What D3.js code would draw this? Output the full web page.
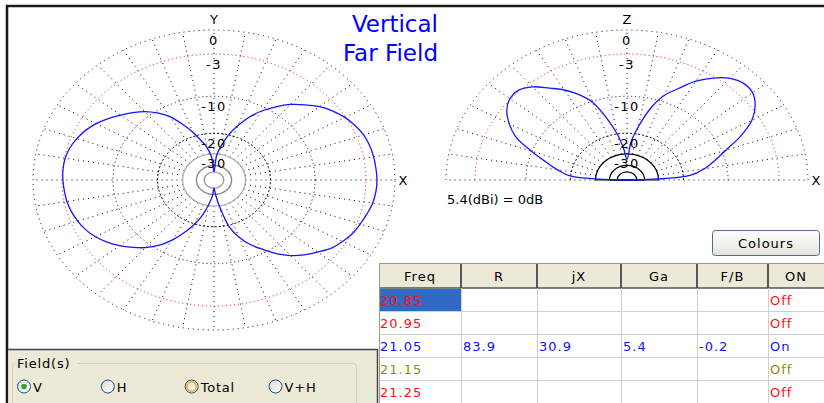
<!DOCTYPE html>
<html><head><meta charset="utf-8">
<script src="https://cdn.jsdelivr.net/npm/d3@7"></script>
<style>
html,body{margin:0;padding:0;background:#fff;}
svg{display:block;}
text{font-family:"DejaVu Sans",sans-serif;}
</style></head><body>
<svg id="c" width="824" height="403"></svg>
<script>
// ---------------- data ----------------
const ringLevels = [0, -3, -10, -20];
const ringLabels = ["0", "-3", "-10", "-20", "-30"];
const labelLevels = [0, -3, -10, -20, -30];
const innerRings = [-30, -40, -50];
const spokeAngles = [0,10,20,30,40,50,60,70,80,90,100,110,120,130,140,150,160,170,180,190,200,210,220,230,240,250,260,270,280,290,300,310,320,330,340,350];
const azAngles = [0,5,10,15,20,25,30,35,40,45,50,55,60,65,70,75,80,85,90,95,100,105,110,115,120,125,130,135,140,145,150,155,160,165,170,175,180,185,190,195,200,205,210,215,220,225,230,235,240,245,250,255,260,265,270,275,280,285,290,295,300,305,310,315,320,325,330,335,340,345,350,355];
const azGain = [-1.8,-1.85,-1.9,-2.0,-2.2,-2.6,-3.1,-3.8,-4.7,-5.9,-7.2,-8.9,-10.8,-13.2,-16.3,-20.0,-25.0,-31,-50,-32,-26,-22.5,-18.7,-15.3,-12.3,-10.4,-8.9,-7.8,-6.8,-5.8,-4.9,-4.2,-3.7,-3.3,-3.1,-3.05,-3.1,-3.2,-3.3,-3.5,-3.8,-4.2,-4.8,-5.6,-6.6,-7.8,-9.1,-10.8,-13.2,-16.3,-20,-24.5,-31,-38,-50,-40,-29,-19.5,-15.5,-12.8,-10.8,-8.8,-7.2,-6.0,-5.0,-4.0,-3.4,-2.9,-2.6,-2.3,-2.0,-1.85];
const elAngles = [0,5,10,15,20,25,30,35,40,45,50,55,60,65,70,75,80,85,90,95,100,105,110,115,120,125,130,135,140,145,150,155,160,165,170,175,180];
const elGain = [-60,-18,-14.3,-11.8,-9.3,-6.3,-3.9,-2.5,-1.7,-1.6,-2.1,-3.2,-4.7,-6.8,-8.8,-12.3,-17.5,-23.5,-34,-27,-20,-14.8,-10.3,-8.0,-6.3,-5.0,-3.6,-2.85,-2.9,-3.6,-4.9,-6.7,-9.9,-13.2,-16.2,-19.8,-60];
const titleLines = ["Vertical", "Far Field"];
const refText = "5.4(dBi) = 0dB";
const tableHeaders = ["Freq", "R", "jX", "Ga", "F/B", "ON"];
const freqCol = ["20.85", "20.95", "21.05", "21.15", "21.25"];
const rCol = ["", "", "83.9", "", ""];
const jxCol = ["", "", "30.9", "", ""];
const gaCol = ["", "", "5.4", "", ""];
const fbCol = ["", "", "-0.2", "", ""];
const onCol = ["Off", "Off", "On", "Off", "Off"];
const rowColours = ["#ff1010", "#ff1010", "#1010ff", "#8f8f10", "#ff1010"];
const fieldOptions = ["V", "H", "Total", "V+H"];

// ---------------- layout ----------------
const svg = d3.select("#c");
const W = 824, H = 403;
const radial = d3.scaleLog().domain([Math.pow(0.89, 30), 1]).range([-60, 0]); // fraction -> dB (ARRL log scale)
const frac = db => radial.invert(Math.max(db, -60));
const rad = a => a * Math.PI / 180;

function drawPolar(geo, half, axisLabel, gain, angles, innerColors) {
  const g = svg.append("g");
  const xs = d3.scaleLinear().domain([-1, 1]).range([geo.cx - geo.rx, geo.cx + geo.rx]);
  const ys = d3.scaleLinear().domain([-1, 1]).range([geo.cy + geo.ry, geo.cy - geo.ry]);
  const P = (a, f) => [xs(f * Math.cos(rad(a))), ys(f * Math.sin(rad(a)))];
  const ringPath = f => half
    ? `M${xs(f)},${ys(0)}A${geo.rx * f},${geo.ry * f} 0 0 0 ${xs(-f)},${ys(0)}`
    : `M${xs(f)},${ys(0)}A${geo.rx * f},${geo.ry * f} 0 0 0 ${xs(-f)},${ys(0)}A${geo.rx * f},${geo.ry * f} 0 0 0 ${xs(f)},${ys(0)}`;

  // spokes
  const sp = half ? spokeAngles.filter(a => a <= 180) : spokeAngles;
  g.selectAll(".spoke").data(sp).enter().append("line")
    .attr("x1", a => P(a, frac(-30))[0]).attr("y1", a => P(a, frac(-30))[1])
    .attr("x2", a => P(a, frac(0))[0]).attr("y2", a => P(a, frac(0))[1])
    .attr("stroke", "#000").attr("stroke-width", 1).attr("stroke-dasharray", "1,4");

  // rings
  const ringStyle = {
    "0": {c: "#000", d: "1,4"}, "-3": {c: "#f00", d: "1,3"},
    "-10": {c: "#000", d: "1,3"}, "-20": {c: "#000", d: "2,2"}
  };
  g.selectAll(".ring").data(ringLevels).enter().append("path")
    .attr("d", d => ringPath(frac(d)))
    .attr("fill", "none")
    .attr("stroke", d => ringStyle[d].c)
    .attr("stroke-dasharray", d => ringStyle[d].d)
    .attr("stroke-width", 1);
  g.selectAll(".inner").data(innerRings).enter().append("path")
    .attr("d", d => ringPath(frac(d)) + (half ? "Z" : ""))
    .attr("fill", "none")
    .attr("stroke", (d, i) => innerColors[i])
    .attr("stroke-width", half ? 1.2 : 1.4);

  // pattern
  const pts = angles.map((a, i) => P(a, frac(gain[i])));
  const line = d3.line().curve(half ? d3.curveCatmullRom.alpha(0.5) : d3.curveCatmullRomClosed.alpha(0.5));
  g.append("path").attr("d", line(pts) + (half ? "Z" : ""))
    .attr("fill", "none").attr("stroke", "#1515ff").attr("stroke-width", 1.3);

  // labels
  g.selectAll(".lab").data(labelLevels).enter().append("text")
    .attr("x", geo.cx).attr("y", d => ys(frac(d)) + 10)
    .attr("text-anchor", "middle").attr("dominant-baseline", "central")
    .attr("font-size", 13).attr("letter-spacing", 1.5).attr("fill", "#000")
    .text((d, i) => ringLabels[i]);
  g.append("text").attr("x", geo.cx).attr("y", 19)
    .attr("text-anchor", "middle").attr("dominant-baseline", "central")
    .attr("font-size", 13).text(axisLabel);
  g.append("text").attr("x", geo.cx + geo.rx + 8).attr("y", geo.cy)
    .attr("text-anchor", "middle").attr("dominant-baseline", "central")
    .attr("font-size", 13).text("X");
}

drawPolar({cx: 214, cy: 180, rx: 181, ry: 150}, false, "Y", azGain, azAngles, ["#b0b0b0", "#8a8a8a", "#9a9a9a"]);
drawPolar({cx: 627, cy: 180, rx: 181, ry: 150}, true, "Z", elGain, elAngles, ["#000", "#000", "#000"]);

// title
svg.selectAll(".title").data(titleLines).enter().append("text")
  .attr("x", 438).attr("y", (d, i) => 32 + i * 29)
  .attr("text-anchor", "end").attr("font-family", "Liberation Sans, Arial, sans-serif")
  .attr("font-size", 23).attr("fill", "#0000ff").text(d => d);

svg.append("text").attr("x", 447).attr("y", 204).attr("font-size", 13).text(refText);

// frame
svg.append("line").attr("x1", 6).attr("x2", W).attr("y1", 6).attr("y2", 6).attr("stroke", "#1a1a1a").attr("stroke-width", 2.5);
svg.append("line").attr("x1", 7).attr("x2", 7).attr("y1", 5).attr("y2", H).attr("stroke", "#1a1a1a").attr("stroke-width", 2.5);

// field panel
svg.append("rect").attr("x", 8.5).attr("y", 349.5).attr("width", 369).attr("height", 60).attr("fill", "#ECE9D8");
svg.append("line").attr("x1", 8).attr("x2", 378).attr("y1", 349.5).attr("y2", 349.5).attr("stroke", "#444").attr("stroke-width", 1.5);
svg.append("line").attr("x1", 377.5).attr("x2", 377.5).attr("y1", 349).attr("y2", H).attr("stroke", "#444").attr("stroke-width", 1.5);
svg.append("rect").attr("x", 12.5).attr("y", 363.5).attr("width", 344).attr("height", 60).attr("rx", 3)
  .attr("fill", "none").attr("stroke", "#D0D0BF");
svg.append("rect").attr("x", 15).attr("y", 356).attr("width", 62).attr("height", 14).attr("fill", "#ECE9D8");
svg.append("text").attr("x", 17).attr("y", 368).attr("font-size", 13).attr("letter-spacing", 0.8).text("Field(s)");

const radioX = d3.scalePoint().domain(fieldOptions).range([24, 275.5]);
const defs = svg.append("defs");
const rg = defs.append("linearGradient").attr("id", "rg").attr("x1", 0).attr("y1", 0).attr("x2", 1).attr("y2", 1);
rg.append("stop").attr("offset", 0).attr("stop-color", "#dcdcd4");
rg.append("stop").attr("offset", 1).attr("stop-color", "#ffffff");
const radios = svg.selectAll(".radio").data(fieldOptions).enter().append("g");
radios.append("circle").attr("cx", d => radioX(d)).attr("cy", 386.5).attr("r", 6.5)
  .attr("fill", "url(#rg)").attr("stroke", "#1C5180").attr("stroke-width", 1);
radios.filter(d => d === "Total").append("circle").attr("cx", d => radioX(d)).attr("cy", 386.5).attr("r", 4.8)
  .attr("fill", "none").attr("stroke", "#F6B53C").attr("stroke-width", 2);
radios.filter(d => d === "V").append("circle").attr("cx", d => radioX(d)).attr("cy", 386.5).attr("r", 2.8)
  .attr("fill", "#2EA52E");
radios.append("text").attr("x", d => radioX(d) + 9).attr("y", 391.5)
  .attr("font-size", 13).attr("letter-spacing", 0.8).text(d => d);

// Colours button
const bg = defs.append("linearGradient").attr("id", "bg").attr("x1", 0).attr("y1", 0).attr("x2", 0).attr("y2", 1);
bg.append("stop").attr("offset", 0).attr("stop-color", "#ffffff");
bg.append("stop").attr("offset", 1).attr("stop-color", "#E6E4DA");
svg.append("rect").attr("x", 712.5).attr("y", 230.5).attr("width", 107).attr("height", 25).attr("rx", 3)
  .attr("fill", "url(#bg)").attr("stroke", "#4a6f96").attr("stroke-width", 1);
svg.append("text").attr("x", 766).attr("y", 243).attr("text-anchor", "middle").attr("dominant-baseline", "central")
  .attr("font-size", 13).attr("letter-spacing", 1).text("Colours");

// table
const colEdges = [379, 461, 537, 621, 697, 768, 824];
const rowY = d3.scaleBand().domain(freqCol).range([288, 403]);
const tbl = svg.append("g");
tbl.append("rect").attr("x", 379).attr("y", 263).attr("width", W - 379).attr("height", H - 263).attr("fill", "#fff");
tbl.append("rect").attr("x", 379).attr("y", 263).attr("width", W - 379).attr("height", 25).attr("fill", "#ECE9D8");
tbl.append("line").attr("x1", 379).attr("x2", W).attr("y1", 263.5).attr("y2", 263.5).attr("stroke", "#9a9a90");
tbl.append("line").attr("x1", 379).attr("x2", W).attr("y1", 288).attr("y2", 288).attr("stroke", "#555").attr("stroke-width", 1.5);
tbl.selectAll(".hl").data(freqCol.slice(1)).enter().append("line")
  .attr("x1", 379).attr("x2", W).attr("y1", d => rowY(d) + 0.5).attr("y2", d => rowY(d) + 0.5).attr("stroke", "#cfcfcf");
tbl.selectAll(".vl").data(colEdges.slice(1, 6)).enter().append("line")
  .attr("x1", d => d + 0.5).attr("x2", d => d + 0.5).attr("y1", 288).attr("y2", H).attr("stroke", "#cfcfcf");
tbl.selectAll(".hv").data(colEdges.slice(1, 6)).enter().append("line")
  .attr("x1", d => d).attr("x2", d => d).attr("y1", 264).attr("y2", 288).attr("stroke", "#333").attr("stroke-width", 1.6);
tbl.append("line").attr("x1", 379.5).attr("x2", 379.5).attr("y1", 263).attr("y2", H).attr("stroke", "#9a9a90");
tbl.append("rect").attr("x", 380).attr("y", rowY(freqCol[0]) + 1).attr("width", 81).attr("height", rowY.bandwidth() - 1).attr("fill", "#316AC5");
tbl.selectAll(".hd").data(tableHeaders).enter().append("text")
  .attr("x", (d, i) => (colEdges[i] + colEdges[i + 1]) / 2).attr("y", 276)
  .attr("text-anchor", "middle").attr("dominant-baseline", "central")
  .attr("font-size", 13).attr("letter-spacing", 1).text(d => d);
const cols = [freqCol, rCol, jxCol, gaCol, fbCol, onCol];
cols.forEach((col, ci) => {
  tbl.selectAll(".c" + ci).data(col).enter().append("text")
    .attr("x", colEdges[ci] + (ci === 0 ? 1 : 2))
    .attr("y", (d, ri) => rowY(freqCol[ri]) + rowY.bandwidth() / 2 + 1)
    .attr("dominant-baseline", "central")
    .attr("font-size", 13).attr("letter-spacing", 1)
    .attr("fill", (d, ri) => rowColours[ri]).text(d => d);
});
</script>
</body></html>
